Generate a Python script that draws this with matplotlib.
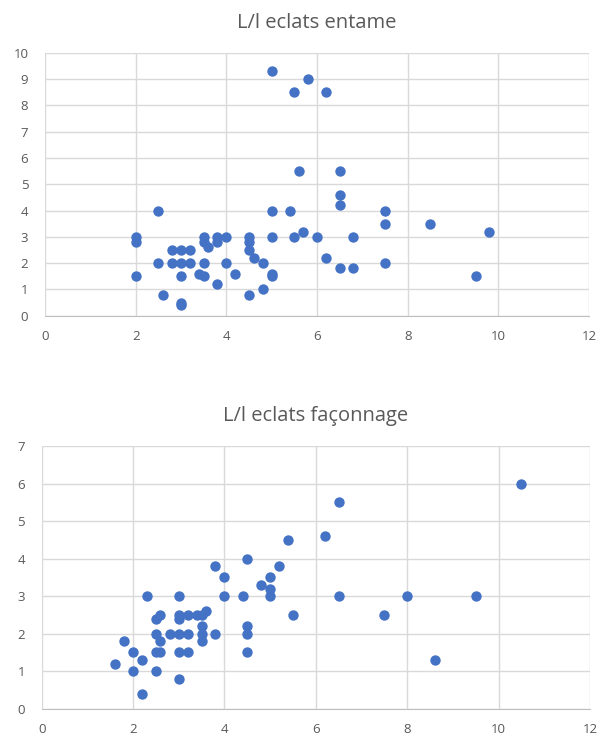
import matplotlib.pyplot as plt

# L/l eclats entame
entame_x = [5, 5.8, 5.5, 6.2, 5.6, 2.5, 2, 2, 2.8, 3, 3.2, 2.5, 2.8, 3, 3.2, 3.5,
            2, 3, 2.6, 3, 3, 3.5, 3.5, 3.6, 3.8, 3.8, 4, 4.5, 4.5, 4.5, 4.6, 4.8,
            4, 4.2, 3.4, 3.5, 3.8, 5, 5, 4.8, 4.5, 5, 5.4, 5, 5.5, 5.7, 6, 6.2,
            6.5, 6.5, 6.5, 7.5, 7.5, 8.5, 9.8, 6.8, 6.5, 6.8, 7.5, 9.5]
entame_y = [9.3, 9, 8.5, 8.5, 5.5, 4, 3, 2.8, 2.5, 2.5, 2.5, 2, 2, 2, 2, 2,
            1.5, 1.5, 0.8, 0.5, 0.4, 3, 2.8, 2.6, 3, 2.8, 3, 3, 2.8, 2.5, 2.2, 2,
            2, 1.6, 1.6, 1.5, 1.2, 1.6, 1.5, 1, 0.8, 4, 4, 3, 3, 3.2, 3, 2.2,
            5.5, 4.6, 4.2, 4, 3.5, 3.5, 3.2, 3, 1.8, 1.8, 2, 1.5]

# L/l eclats façonnage
faco_x = [6.2, 5.4, 4.5, 3.8, 5.2, 4, 5, 4.8, 5, 5, 2.3, 3, 4, 4.4, 5.5,
          2.5, 2.6, 3, 3, 3.2, 3.4, 3.5, 3.6, 3.5, 4.5, 2.5, 2.8, 3, 3.2, 3.5,
          3.8, 4.5, 2.6, 3.5, 1.8, 2, 2.5, 2.6, 3, 3.2, 4.5, 1.6, 2.2, 2, 2.5,
          3, 2.2, 10.5, 6.5, 6.5, 8, 9.5, 7.5, 8.6]
faco_y = [4.6, 4.5, 4, 3.8, 3.8, 3.5, 3.5, 3.3, 3.2, 3, 3, 3, 3, 3, 2.5,
          2.4, 2.5, 2.5, 2.4, 2.5, 2.5, 2.5, 2.6, 2.2, 2.2, 2, 2, 2, 2, 2,
          2, 2, 1.8, 1.8, 1.8, 1.5, 1.5, 1.5, 1.5, 1.5, 1.5, 1.2, 1.3, 1, 1,
          0.8, 0.4, 6, 5.5, 3, 3, 3, 2.5, 1.3]

blue = '#4472C4'
grid = '#d9d9d9'
text = '#595959'

fig = plt.figure(figsize=(6.1, 7.36), dpi=100)
W, H = 610, 736

def make_axes(left, right, top, bottom):
    return fig.add_axes([left / W, 1 - bottom / H, (right - left) / W, (bottom - top) / H])

ax1 = make_axes(45, 589, 52.7, 315.7)
ax2 = make_axes(41.7, 590, 446, 708.7)

for ax, xs, ys, ymax, title in [(ax1, entame_x, entame_y, 10, 'L/l eclats entame'),
                                (ax2, faco_x, faco_y, 7, 'L/l eclats façonnage')]:
    ax.scatter(xs, ys, s=56, color=blue, zorder=3, linewidths=0)
    ax.set_xlim(0, 12)
    ax.set_ylim(0, ymax)
    ax.set_xticks(range(0, 13, 2))
    ax.set_yticks(range(0, ymax + 1))
    ax.grid(True, color=grid, linewidth=1)
    ax.set_axisbelow(True)
    for side in ['top', 'right', 'left']:
        ax.spines[side].set_visible(False)
    ax.spines['bottom'].set_color('#bfbfbf')
    ax.tick_params(axis='x', length=0, labelsize=9.5, colors=text, pad=10)
    ax.tick_params(axis='y', length=0, labelsize=9.5, colors=text, pad=12)
    ax.set_title(title, fontsize=14.5, color=text, pad=18, fontfamily='Open Sans')
    for lab in ax.get_xticklabels() + ax.get_yticklabels():
        lab.set_fontfamily('Open Sans')

fig.savefig('out.png', dpi=100)
